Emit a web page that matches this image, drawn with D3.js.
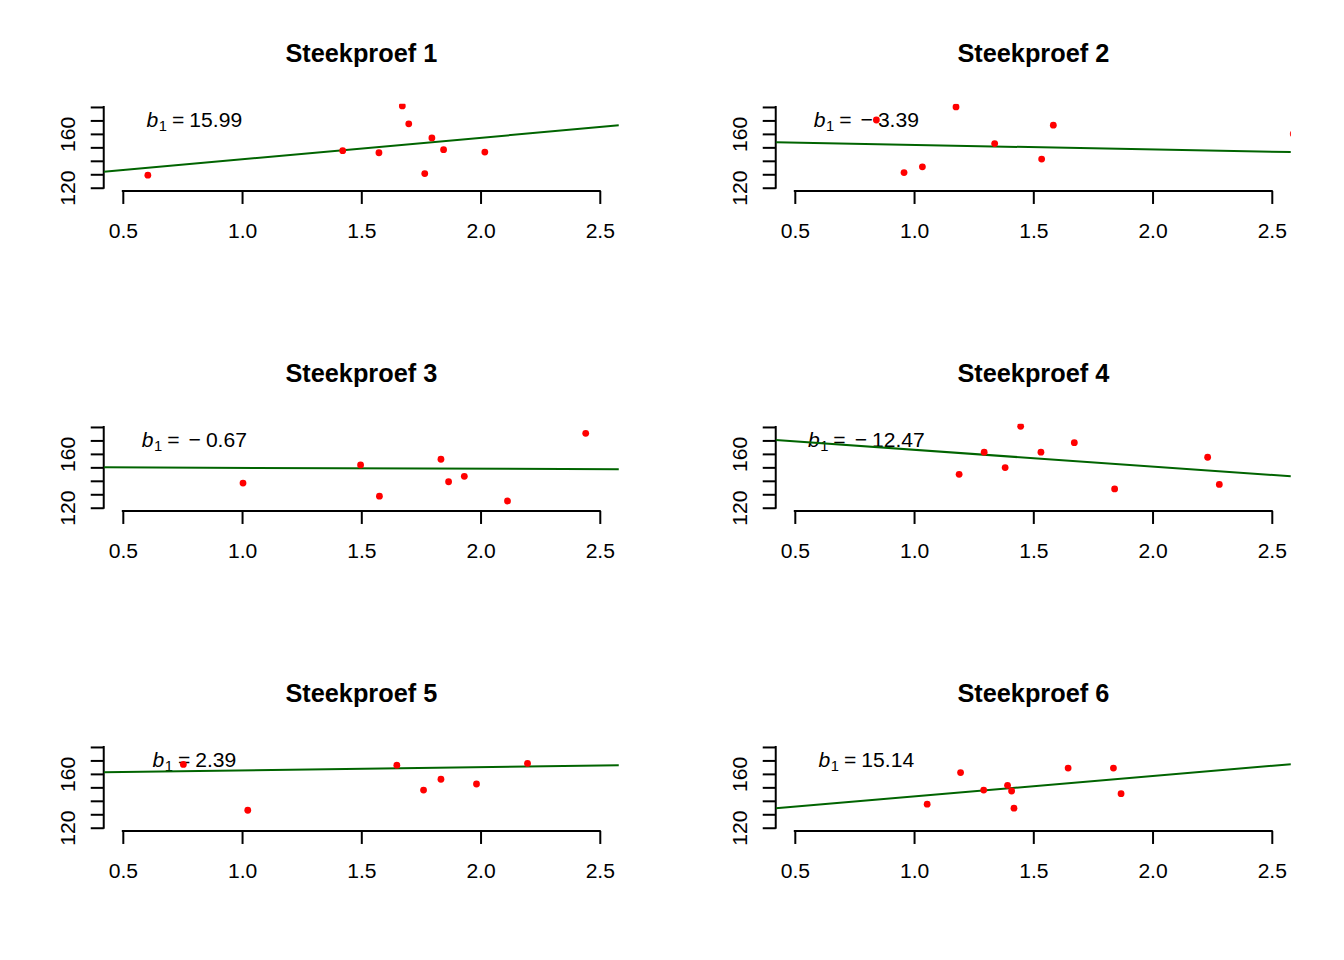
<!DOCTYPE html>
<html>
<head>
<meta charset="utf-8">
<script src="https://cdn.jsdelivr.net/npm/d3@7/dist/d3.min.js"></script>
<style>
  html, body { margin: 0; padding: 0; background: #ffffff; }
  svg { display: block; font-family: "Liberation Sans", Arial, Helvetica, sans-serif; }
</style>
</head>
<body>
<script>
// ---------------- data ----------------
const titles = ["Steekproef 1", "Steekproef 2", "Steekproef 3", "Steekproef 4", "Steekproef 5", "Steekproef 6"];
const slopes = [15.99, -3.39, -0.67, -12.47, 2.39, 15.14];
const intercepts = [125.1, 155.2, 150.3, 175.5, 160.2, 128.1];

const xs1 = [0.605, 1.422, 1.672, 1.699, 1.574, 1.796, 1.845, 1.766, 2.018];
const ys1 = [129.3, 147.5, 180.8, 167.5, 146.0, 157.0, 148.3, 130.5, 146.5];
const xs2 = [0.842, 1.176, 1.338, 0.958, 1.035, 1.584, 1.535, 2.590];
const ys2 = [170.3, 180.0, 152.8, 131.3, 135.5, 166.5, 141.3, 160.0];
const xs3 = [1.004, 1.497, 1.576, 1.834, 1.866, 1.932, 2.113, 2.441];
const ys3 = [138.3, 151.8, 128.6, 156.0, 139.3, 143.3, 125.0, 175.3];
const xs4 = [1.189, 1.294, 1.382, 1.447, 1.532, 1.672, 1.841, 2.231, 2.280];
const ys4 = [144.8, 161.3, 149.8, 180.5, 161.3, 168.3, 134.0, 157.5, 137.3];
const xs5 = [0.754, 1.024, 1.649, 1.761, 1.834, 1.983, 2.197];
const ys5 = [167.0, 133.0, 166.5, 148.0, 156.0, 152.5, 167.8];
const xs6 = [1.055, 1.195, 1.292, 1.392, 1.409, 1.419, 1.646, 1.836, 1.868];
const ys6 = [137.5, 161.0, 148.0, 151.5, 147.3, 134.5, 164.3, 164.3, 145.3];
const sampleX = [xs1, xs2, xs3, xs4, xs5, xs6];
const sampleY = [ys1, ys2, ys3, ys4, ys5, ys6];

const xTicks = [0.5, 1.0, 1.5, 2.0, 2.5];
const yTicks = [120, 130, 140, 150, 160, 170, 180];
const yLabelled = [120, 160];
const xLim = [0.5, 2.5];
const yLim = [120, 180];
const labelPos = [0.8, 170];

// ---------------- layout ----------------
const W = 1344, H = 960;
const PW = 672, PH = 320;
const line = 25.3;
const mar = { top: 4.1 * line, right: 2.1 * line, bottom: 5.1 * line, left: 4.1 * line };
const fontSize = 21.1;
const titleSize = 25.3;
const tickLen = 13;

const svg = d3.select("body").append("svg")
  .attr("width", W).attr("height", H)
  .attr("viewBox", `0 0 ${W} ${H}`);

svg.append("rect").attr("width", W).attr("height", H).attr("fill", "#ffffff");

const expand = (lim) => { const d = (lim[1] - lim[0]) * 0.04; return [lim[0] - d, lim[1] + d]; };

function fmtNum(v) {
  return Math.abs(v).toFixed(2);
}

titles.forEach((title, i) => {
  const col = i % 2, row = Math.floor(i / 2);
  const g = svg.append("g").attr("transform", `translate(${col * PW},${row * PH})`);

  const x = d3.scaleLinear().domain(expand(xLim)).range([mar.left, PW - mar.right]);
  const y = d3.scaleLinear().domain(expand(yLim)).range([PH - mar.bottom, mar.top]);

  const clipId = "clip" + i;
  g.append("clipPath").attr("id", clipId)
    .append("rect")
    .attr("x", mar.left).attr("y", mar.top)
    .attr("width", PW - mar.left - mar.right)
    .attr("height", PH - mar.top - mar.bottom);

  // title
  g.append("text")
    .attr("x", (x.range()[0] + x.range()[1]) / 2)
    .attr("y", 62)
    .attr("text-anchor", "middle")
    .attr("font-weight", "bold")
    .attr("font-size", titleSize)
    .attr("fill", "#000")
    .text(title);

  // x axis
  const xAxisG = g.append("g")
    .attr("transform", `translate(0,${y.range()[0]})`)
    .call(d3.axisBottom(x).tickValues(xTicks).tickFormat(d3.format(".1f")).tickSizeInner(tickLen).tickSizeOuter(0));
  xAxisG.select(".domain").remove();
  xAxisG.append("line")
    .attr("x1", x(xLim[0])).attr("x2", x(xLim[1]))
    .attr("y1", 0).attr("y2", 0)
    .attr("stroke", "#000").attr("stroke-width", 2).attr("stroke-linecap", "square");
  xAxisG.selectAll(".tick line").attr("stroke", "#000").attr("stroke-width", 2);
  xAxisG.selectAll(".tick text")
    .attr("y", 46.8).attr("dy", null)
    .attr("font-size", fontSize)
    .attr("font-family", "Liberation Sans, Arial, sans-serif")
    .attr("fill", "#000");

  // y axis
  const yAxisG = g.append("g")
    .attr("transform", `translate(${x.range()[0]},0)`)
    .call(d3.axisLeft(y).tickValues(yTicks)
      .tickFormat(d => yLabelled.includes(d) ? String(d) : "")
      .tickSizeInner(tickLen).tickSizeOuter(0));
  yAxisG.select(".domain").remove();
  yAxisG.append("line")
    .attr("x1", 0).attr("x2", 0)
    .attr("y1", y(yLim[0])).attr("y2", y(yLim[1]))
    .attr("stroke", "#000").attr("stroke-width", 2).attr("stroke-linecap", "square");
  yAxisG.selectAll(".tick line").attr("stroke", "#000").attr("stroke-width", 2);
  yAxisG.selectAll(".tick text")
    .attr("transform", "rotate(-90)")
    .attr("x", 0).attr("y", -28.8).attr("dy", null)
    .attr("text-anchor", "middle")
    .attr("font-size", fontSize)
    .attr("font-family", "Liberation Sans, Arial, sans-serif")
    .attr("fill", "#000");

  // b1 label (drawn first, under the line and points)
  const b = slopes[i];
  const lbl = g.append("text")
    .attr("x", x(labelPos[0]))
    .attr("y", y(labelPos[1]))
    .attr("dy", "0.32em")
    .attr("text-anchor", "middle")
    .attr("font-size", fontSize)
    .attr("fill", "#000");
  lbl.append("tspan").attr("font-style", "italic").text("b");
  lbl.append("tspan").attr("font-size", fontSize * 0.7).attr("dx", 0.5).attr("dy", 4).text("1");
  lbl.append("tspan").attr("dx", 5).attr("dy", -4).text("=");
  if (b < 0) {
    lbl.append("tspan").attr("dx", 9).text("\u2212");
    lbl.append("tspan").attr("dx", 5).text(fmtNum(b));
  } else {
    lbl.append("tspan").attr("dx", 5).text(fmtNum(b));
  }

  const plotG = g.append("g").attr("clip-path", `url(#${clipId})`);

  // regression line across plot region
  const xd = x.domain();
  plotG.append("line")
    .attr("x1", x(xd[0])).attr("y1", y(intercepts[i] + slopes[i] * xd[0]))
    .attr("x2", x(xd[1])).attr("y2", y(intercepts[i] + slopes[i] * xd[1]))
    .attr("stroke", "#006400").attr("stroke-width", 2);

  // points
  const pts = sampleX[i].map((v, k) => ({ x: v, y: sampleY[i][k] }));
  plotG.selectAll("circle").data(pts).enter().append("circle")
    .attr("cx", d => x(d.x)).attr("cy", d => y(d.y))
    .attr("r", 3.4)
    .attr("fill", "#ff0000");
});
</script>
</body>
</html>
